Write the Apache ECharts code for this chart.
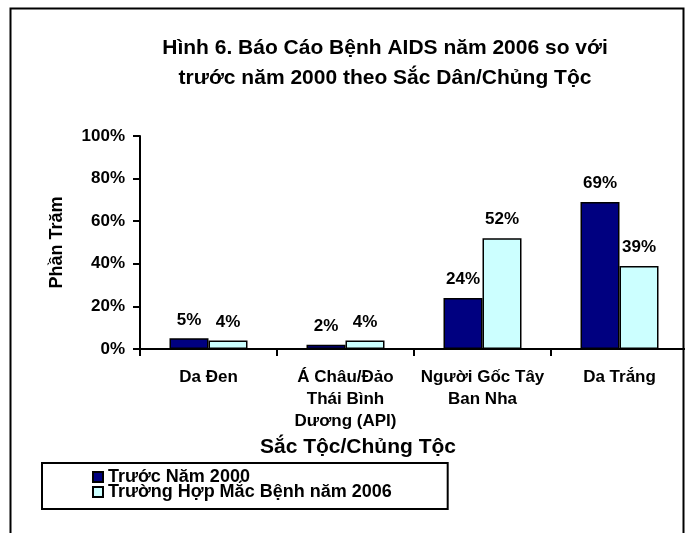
<!DOCTYPE html>
<html>
<head>
<meta charset="utf-8">
<script src="https://cdn.jsdelivr.net/npm/echarts@6/dist/echarts.min.js"></script>
<style>
  html, body { margin: 0; padding: 0; background: #fff; }
  #chart { width: 688px; height: 533px; }
</style>
</head>
<body>
<div id="chart"></div>
<script>
// du lieu doc tu hinh
const categories = ['Da Đen', 'Á Châu/Đảo\nThái Bình\nDương (API)', 'Người Gốc Tây\nBan Nha', 'Da Trắng'];
const seriesNames = ['Trước Năm 2000', 'Trường Hợp Mắc Bệnh năm 2006'];
const before2000 = [5, 2, 24, 69];
const cases2006 = [4, 4, 52, 39];
const yTicks = [0, 20, 40, 60, 80, 100];

const FONT = '"Liberation Sans", Arial, sans-serif';

let myChart = echarts.init(document.getElementById('chart'));

const option = {
  backgroundColor: '#fff',
  animation: false,
  title: [
    {
      text: 'Hình 6. Báo Cáo Bệnh AIDS năm 2006 so với\ntrước năm 2000 theo Sắc Dân/Chủng Tộc',
      left: 385,
      top: 33,
      padding: 0,
      textAlign: 'center',
      textStyle: { fontFamily: FONT, fontSize: 21, fontWeight: 'bold', color: '#000', lineHeight: 30 }
    },
    {
      text: 'Sắc Tộc/Chủng Tộc',
      left: 260,
      top: 437,
      padding: 0,
      textStyle: { fontFamily: FONT, fontSize: 21, fontWeight: 'bold', color: '#000' }
    }
  ],
  legend: {
    data: seriesNames,
    orient: 'vertical',
    left: 42,
    top: 463,
    padding: [5, 56, 8, 50],
    itemGap: -3,
    itemWidth: 10,
    itemHeight: 10,
    icon: 'rect',
    borderColor: '#000',
    borderWidth: 2,
    textStyle: { fontFamily: FONT, fontSize: 18, fontWeight: 'bold', color: '#000' }
  },
  grid: { left: 140, top: 136, width: 550, height: 213, containLabel: false },
  xAxis: {
    type: 'category',
    data: categories,
    axisLine: { lineStyle: { color: '#000', width: 2 } },
    axisTick: { show: true, length: 7, lineStyle: { color: '#000', width: 2 } },
    axisLabel: { interval: 0, margin: 17, fontFamily: FONT, fontSize: 17, fontWeight: 'bold', color: '#000', lineHeight: 22 }
  },
  yAxis: {
    type: 'value',
    min: 0,
    max: 100,
    interval: 20,
    name: 'Phần Trăm',
    nameLocation: 'middle',
    nameRotate: 90,
    nameGap: 74,
    nameTextStyle: { fontFamily: FONT, fontSize: 18, fontWeight: 'bold', color: '#000' },
    axisLine: { show: true, lineStyle: { color: '#000', width: 2 } },
    axisTick: { show: true, length: 7, lineStyle: { color: '#000', width: 2 } },
    splitLine: { show: false },
    axisLabel: {
      margin: 15,
      fontFamily: FONT, fontSize: 17, fontWeight: 'bold', color: '#000',
      formatter: function (v) { return yTicks.indexOf(v) >= 0 ? v + '%' : ''; }
    }
  },
  series: [
    {
      name: seriesNames[0],
      type: 'bar',
      data: before2000,
      barWidth: 39,
      barGap: '0%',
      itemStyle: { color: '#000080', borderColor: '#000', borderWidth: 1.5 },
      label: { show: true, position: 'top', distance: 10, formatter: '{c}%', fontFamily: FONT, fontSize: 17, fontWeight: 'bold', color: '#000' }
    },
    {
      name: seriesNames[1],
      type: 'bar',
      data: cases2006,
      barWidth: 39,
      barGap: '0%',
      itemStyle: { color: '#CCFFFF', borderColor: '#000', borderWidth: 1.5 },
      label: { show: true, position: 'top', distance: 10, formatter: '{c}%', fontFamily: FONT, fontSize: 17, fontWeight: 'bold', color: '#000' }
    }
  ],
  graphic: [
    // phan truc bi cat ben phai khung
    { type: 'rect', z: 100, shape: { x: 685, y: 0, width: 20, height: 533 }, style: { fill: '#fff' } },
    // khung ngoai
    { type: 'rect', z: 101, shape: { x: 10.5, y: 8.5, width: 673, height: 560 }, style: { fill: 'none', stroke: '#000', lineWidth: 2 } }
  ]
};

window.onresize = myChart.resize;
myChart.setOption(option);
</script>
</body>
</html>
